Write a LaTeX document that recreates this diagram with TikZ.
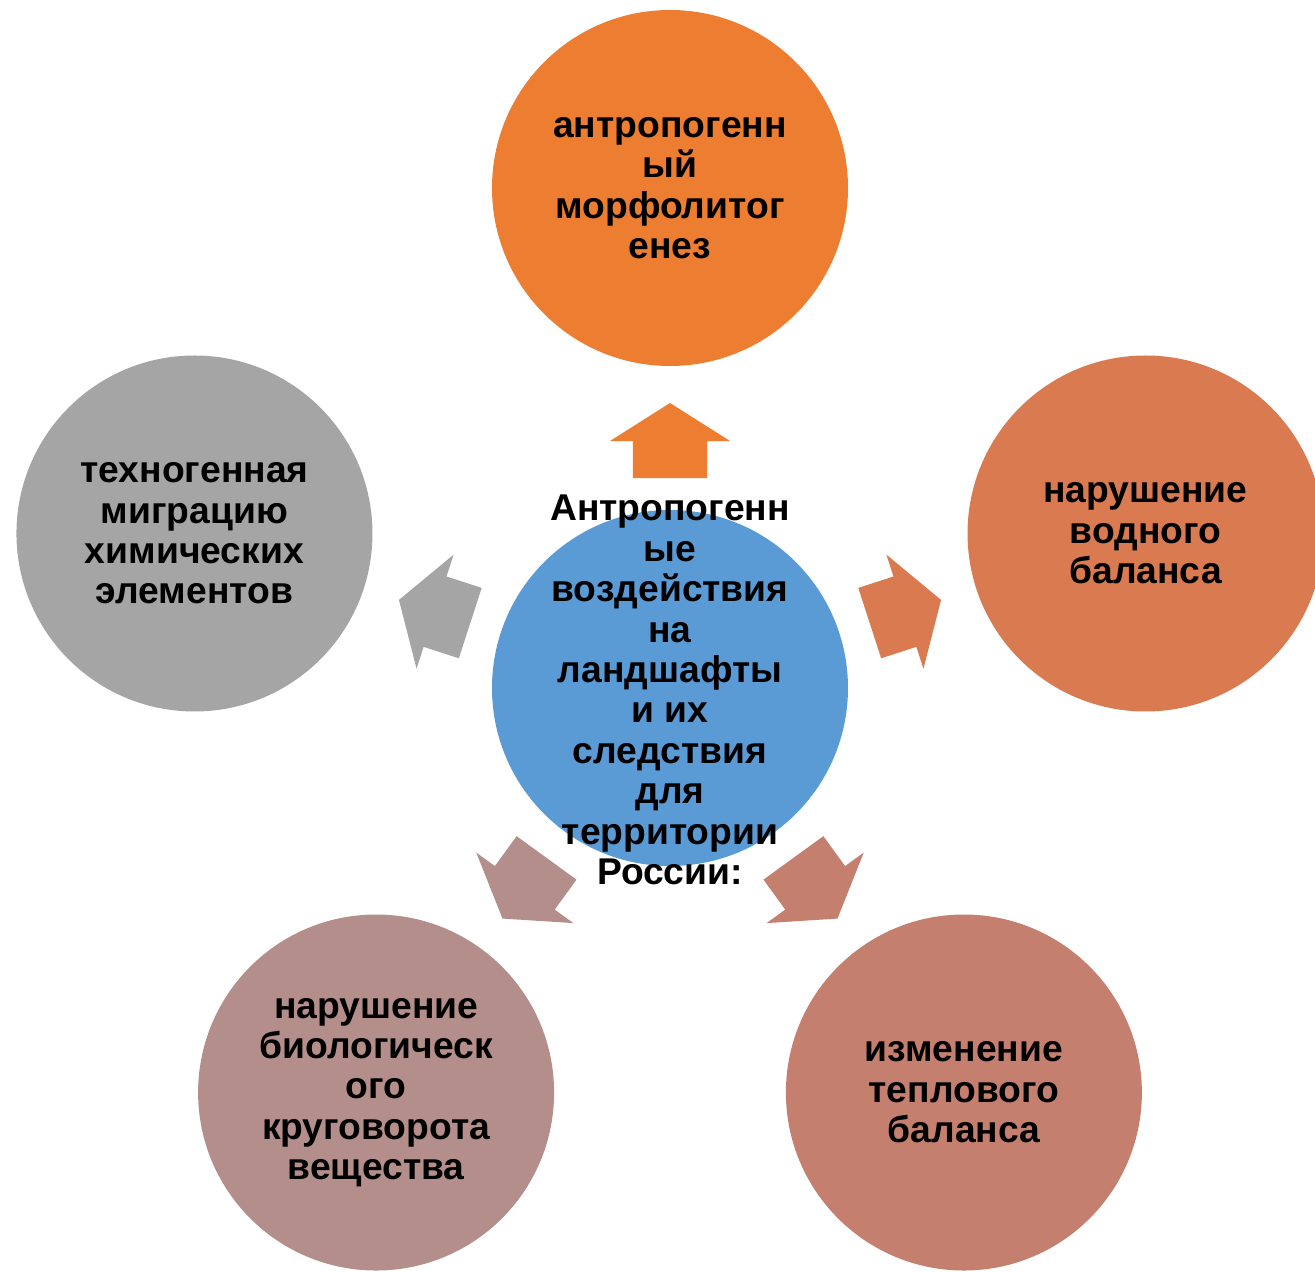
\documentclass[tikz,border=0pt]{standalone}
\usepackage{fontspec}
\setmainfont{Liberation Sans}
\usepackage{tikz}
\usetikzlibrary{positioning,calc}

\definecolor{hubblue}{HTML}{5B9BD5}
\definecolor{topor}{HTML}{ED7D31}
\definecolor{rightor}{HTML}{D97A50}
\definecolor{brsalmon}{HTML}{C47F6E}
\definecolor{blrose}{HTML}{B48E8A}
\definecolor{leftgrey}{HTML}{A5A5A5}

\begin{document}
\begin{tikzpicture}[
    disc/.style={circle, minimum size=7.12cm, inner sep=0pt, align=center,
        font=\fontsize{21.2}{23}\selectfont\bfseries},
    blockarrow/.style={draw=none}]

    \useasboundingbox (-13.4,-11.66) rectangle (12.9,13.76);

    \node[disc, fill=hubblue] (hub) at (0,0) {};

    \node[disc, fill=topor] (morph) at ($(hub)+(90:10)$) {антропогенн\\ый\\морфолитог\\енез};
    \node[disc, fill=rightor] (water) at ($(hub)+(18:10)$) {нарушение\\водного\\баланса};
    \node[disc, fill=brsalmon] (heat) at ($(hub)+(-54:10)$) {изменение\\теплового\\баланса};
    \node[disc, fill=blrose] (bio) at ($(hub)+(-126:10)$) {нарушение\\биологическ\\ого\\круговорота\\вещества};
    \node[disc, fill=leftgrey] (chem) at ($(hub)+(162:10)$) {техногенная\\миграцию\\химических\\элементов};

    % Block arrows
    \fill[topor, shift={(hub.center)}, rotate=90] (4.2,-0.74) -- (4.94,-0.74) -- (4.94,-1.2) -- (5.7,0) -- (4.94,1.2) -- (4.94,0.74) -- (4.2,0.74) -- cycle;
    \fill[rightor, shift={(hub.center)}, rotate=18] (4.2,-0.74) -- (4.94,-0.74) -- (4.94,-1.2) -- (5.7,0) -- (4.94,1.2) -- (4.94,0.74) -- (4.2,0.74) -- cycle;
    \fill[brsalmon, shift={(hub.center)}, rotate=-54] (4.2,-0.74) -- (4.94,-0.74) -- (4.94,-1.2) -- (5.7,0) -- (4.94,1.2) -- (4.94,0.74) -- (4.2,0.74) -- cycle;
    \fill[blrose, shift={(hub.center)}, rotate=-126] (4.2,-0.74) -- (4.94,-0.74) -- (4.94,-1.2) -- (5.7,0) -- (4.94,1.2) -- (4.94,0.74) -- (4.2,0.74) -- cycle;
    \fill[leftgrey, shift={(hub.center)}, rotate=162] (4.2,-0.74) -- (4.94,-0.74) -- (4.94,-1.2) -- (5.7,0) -- (4.94,1.2) -- (4.94,0.74) -- (4.2,0.74) -- cycle;

    % Hub text drawn last, over the arrows
    \node[align=center, font=\fontsize{21.2}{23}\selectfont\bfseries] (hubtext) at ($(hub)+(0,-0.04)$) {Антропогенн\\ые\\воздействия\\на\\ландшафты\\и их\\следствия\\для\\территории\\России:};

\end{tikzpicture}
\end{document}
